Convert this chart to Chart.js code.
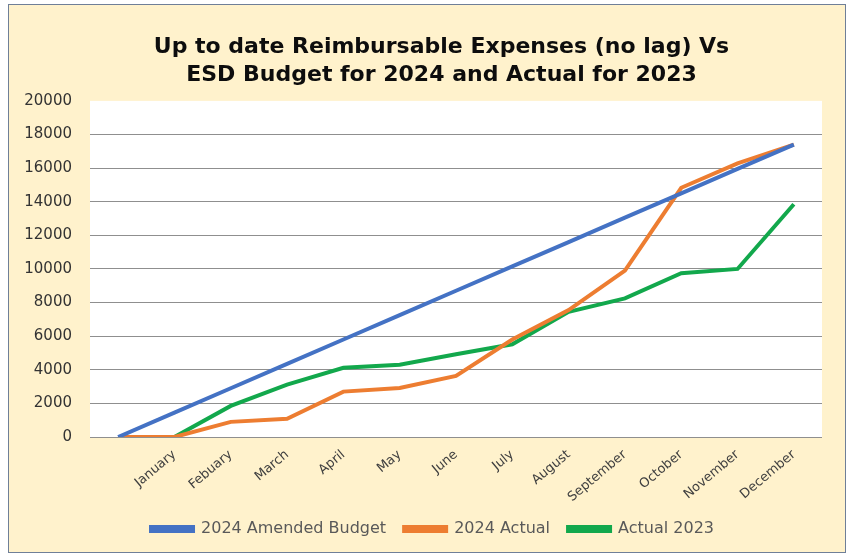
<!DOCTYPE html>
<html>
<head>
<meta charset="utf-8">
<script src="https://cdn.jsdelivr.net/npm/chart.js@4.4.1/dist/chart.umd.min.js"></script>
<style>
  html, body { margin: 0; padding: 0; background: #ffffff; }
  #wrap {
    position: absolute; left: 8px; top: 4px;
    width: 838px; height: 549px; box-sizing: border-box;
    border: 1px solid #6f7f98; background: #FFF2CC;
  }
  canvas { display: block; }
</style>
</head>
<body>
<div id="wrap"><canvas id="chart" width="836" height="547"></canvas></div>
<script>
// Categories (first slot is the unlabeled starting point)
const months = ["", "January", "Febuary", "March", "April", "May", "June", "July",
  "August", "September", "October", "November", "December"];

// Series values
const budget2024 = [0, 1450, 2900, 4350, 5800, 7250, 8700, 10150, 11600, 13050, 14500, 15950, 17400];
const actual2024 = [0, 0, 900, 1080, 2700, 2920, 3630, 5800, 7550, 9900, 14830, 16280, 17400];
const actual2023 = [0, 0, 1850, 3120, 4120, 4300, 4920, 5520, 7450, 8250, 9750, 10000, 13850];

const yMax = 20000;
const yStep = 2000;

// White plot area on cream background
const plotBg = {
  id: "plotBg",
  beforeDraw(chart) {
    const { ctx, chartArea: a } = chart;
    ctx.save();
    ctx.fillStyle = "#ffffff";
    ctx.fillRect(a.left, a.top, a.right - a.left, a.bottom - a.top);
    ctx.restore();
  }
};

// Title and legend sit a bit right of centre in the original
const nudge = {
  id: "nudge",
  afterLayout(chart) {
    const shift = (box, dx) => { if (box) { box.left += dx; box.right += dx; } };
    shift(chart.titleBlock, 26);
    shift(chart.legend, 17);
  }
};

function series(label, data, color) {
  return {
    label: label,
    data: data,
    borderColor: color,
    backgroundColor: color,
    borderWidth: 4,
    pointRadius: 0,
    tension: 0,
    fill: false
  };
}

new Chart(document.getElementById("chart").getContext("2d"), {
  type: "line",
  data: {
    labels: months,
    datasets: [
      series("2024 Amended Budget", budget2024, "#4472C4"),
      series("2024 Actual", actual2024, "#ED7D31"),
      series("Actual 2023", actual2023, "#12A84C")
    ]
  },
  plugins: [plotBg, nudge],
  options: {
    responsive: false,
    animation: false,
    layout: { padding: { left: 0, right: 23, top: 0, bottom: 5 } },
    scales: {
      x: {
        offset: true,
        grid: { display: false, drawTicks: false },
        border: { display: false },
        ticks: {
          color: "#404040",
          font: { family: "DejaVu Sans", size: 13 },
          minRotation: 40,
          maxRotation: 40,
          padding: 10,
          autoSkip: false
        },
        afterFit(scale) { scale.height = 66; }
      },
      y: {
        min: 0,
        max: yMax,
        grid: {
          drawTicks: false,
          color: (c) => (c.tick && c.tick.value === yMax ? "rgba(0,0,0,0)" : "#8f8f8f"),
          lineWidth: 1
        },
        border: { display: false },
        ticks: {
          stepSize: yStep,
          color: "#333333",
          font: { family: "DejaVu Sans", size: 15 },
          padding: 18,
          callback: (v) => String(v)
        },
        afterFit(scale) { scale.width = 81; }
      }
    },
    plugins: {
      title: {
        display: true,
        text: ["Up to date Reimbursable Expenses (no lag) Vs", "ESD Budget for 2024 and Actual for 2023"],
        color: "#0d0d0d",
        font: { family: "DejaVu Sans", size: 22, weight: "bold", lineHeight: 1.27 },
        padding: { top: 28, bottom: 12 }
      },
      legend: {
        position: "bottom",
        labels: {
          color: "#595959",
          font: { family: "DejaVu Sans", size: 16 },
          boxWidth: 42,
          boxHeight: 4,
          padding: 18
        }
      },
      tooltip: { enabled: false }
    }
  }
});
</script>
</body>
</html>
